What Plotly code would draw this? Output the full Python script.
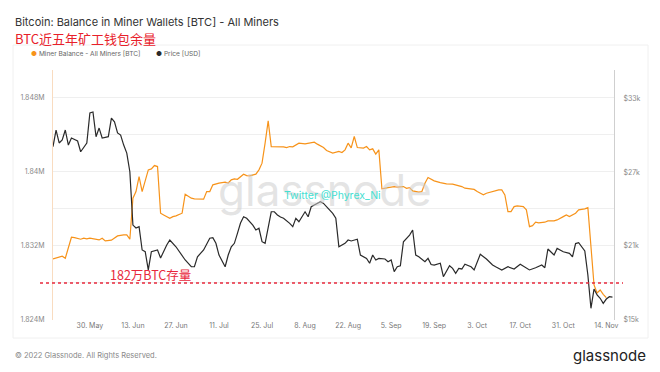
import plotly.graph_objects as go

# ---------------- data ----------------
price_dates = [
    "2022-05-18","2022-05-19","2022-05-20","2022-05-21","2022-05-22","2022-05-23","2022-05-24","2022-05-26",
    "2022-05-27","2022-05-29","2022-05-30","2022-05-31","2022-06-01","2022-06-02","2022-06-03","2022-06-05",
    "2022-06-06","2022-06-07","2022-06-08","2022-06-09","2022-06-10","2022-06-11","2022-06-12","2022-06-13",
    "2022-06-14","2022-06-15","2022-06-16","2022-06-17","2022-06-18","2022-06-19","2022-06-21","2022-06-22",
    "2022-06-24","2022-06-25","2022-06-27","2022-06-29","2022-06-30","2022-07-02","2022-07-03","2022-07-04",
    "2022-07-06","2022-07-08","2022-07-09","2022-07-10","2022-07-11","2022-07-13","2022-07-14","2022-07-15",
    "2022-07-16","2022-07-17","2022-07-18","2022-07-19","2022-07-20","2022-07-22","2022-07-23","2022-07-24",
    "2022-07-25","2022-07-26","2022-07-28","2022-07-29","2022-07-30","2022-07-31","2022-08-01","2022-08-03",
    "2022-08-04","2022-08-05","2022-08-06","2022-08-08","2022-08-09","2022-08-10","2022-08-12","2022-08-13",
    "2022-08-14","2022-08-15","2022-08-17","2022-08-18","2022-08-19","2022-08-21","2022-08-22","2022-08-23",
    "2022-08-24","2022-08-25","2022-08-26","2022-08-28","2022-08-29","2022-08-30","2022-08-31","2022-09-01",
    "2022-09-03","2022-09-04","2022-09-05","2022-09-06","2022-09-07","2022-09-08","2022-09-09","2022-09-10",
    "2022-09-11","2022-09-12","2022-09-13","2022-09-14","2022-09-16","2022-09-17","2022-09-18","2022-09-19",
    "2022-09-21","2022-09-22","2022-09-24","2022-09-25","2022-09-26","2022-09-27","2022-09-28","2022-09-29",
    "2022-10-01","2022-10-02","2022-10-04","2022-10-06","2022-10-08","2022-10-09","2022-10-11","2022-10-13",
    "2022-10-15","2022-10-17","2022-10-19","2022-10-20","2022-10-22","2022-10-24","2022-10-25","2022-10-26",
    "2022-10-28","2022-10-29","2022-10-31","2022-11-02","2022-11-03","2022-11-04","2022-11-05","2022-11-06",
    "2022-11-07","2022-11-08","2022-11-09","2022-11-10","2022-11-11","2022-11-12","2022-11-13","2022-11-14",
    "2022-11-15","2022-11-16",
]
price_usd = [
    29060, 30410, 29360, 29600, 30410, 29190, 29760, 29520,
    28650, 29360, 31790, 31870, 29870, 30570, 29760, 29870,
    31380, 31080, 30170, 30000, 29190, 28540, 27030, 22700,
    22460, 22570, 20680, 20540, 19060, 20540, 20680, 20030,
    21080, 21490, 20940, 20270, 19870, 19320, 19320, 20130,
    20680, 21630, 21680, 21220, 20270, 19320, 20270, 20940,
    21220, 22030, 22870, 23380, 23250, 22700, 22300, 22440,
    21350, 21220, 23780, 23780, 23520, 23350, 23250, 22840,
    22570, 23250, 22970, 23780, 23380, 24190, 24460, 24600,
    24460, 24190, 23650, 23250, 20940, 21220, 21490, 21410,
    21490, 21550, 20270, 20000, 19600, 20270, 19870, 20000,
    19950, 19730, 19870, 18920, 19320, 19400, 21350, 21630,
    21890, 22300, 20270, 20130, 19730, 20000, 19500, 19460,
    19600, 18510, 19400, 19190, 18790, 19190, 19140, 19520,
    19320, 19060, 20330, 19950, 19460, 19320, 19060, 19320,
    19140, 19520, 19190, 19060, 19240, 19460, 19240, 20760,
    20270, 20810, 20540, 20410, 20130, 21200, 21270, 20940,
    20600, 18650, 15950, 17510, 17030, 16760, 16350, 16700,
    16890, 16850,
]

balance_dates = [
    "2022-05-18","2022-05-20","2022-05-21","2022-05-22","2022-05-23","2022-05-24","2022-05-25","2022-05-27",
    "2022-05-28","2022-05-29","2022-05-30","2022-06-01","2022-06-02","2022-06-03","2022-06-04","2022-06-06",
    "2022-06-07","2022-06-08","2022-06-10","2022-06-11","2022-06-12","2022-06-13","2022-06-14","2022-06-15",
    "2022-06-16","2022-06-18","2022-06-19","2022-06-20","2022-06-21","2022-06-22","2022-06-23","2022-06-25",
    "2022-06-26","2022-06-27","2022-06-29","2022-06-30","2022-07-02","2022-07-03","2022-07-06","2022-07-07",
    "2022-07-08","2022-07-09","2022-07-11","2022-07-13","2022-07-14","2022-07-15","2022-07-16","2022-07-17",
    "2022-07-19","2022-07-20","2022-07-21","2022-07-23","2022-07-24","2022-07-25","2022-07-26","2022-07-27",
    "2022-07-28","2022-07-30","2022-08-01","2022-08-02","2022-08-03","2022-08-04","2022-08-06","2022-08-08",
    "2022-08-09","2022-08-11","2022-08-12","2022-08-14","2022-08-15","2022-08-17","2022-08-19","2022-08-20",
    "2022-08-21","2022-08-22","2022-08-23","2022-08-24","2022-08-25","2022-08-27","2022-08-28","2022-08-29",
    "2022-08-30","2022-08-31","2022-09-01","2022-09-02","2022-09-04","2022-09-06","2022-09-07","2022-09-09",
    "2022-09-10","2022-09-11","2022-09-12","2022-09-14","2022-09-15","2022-09-16","2022-09-17","2022-09-19",
    "2022-09-21","2022-09-23","2022-09-25","2022-09-27","2022-09-28","2022-09-29","2022-10-01","2022-10-02",
    "2022-10-03","2022-10-05","2022-10-06","2022-10-07","2022-10-09","2022-10-10","2022-10-11","2022-10-12",
    "2022-10-13","2022-10-14","2022-10-15","2022-10-16","2022-10-18","2022-10-19","2022-10-20","2022-10-21",
    "2022-10-22","2022-10-23","2022-10-25","2022-10-26","2022-10-28","2022-10-29","2022-10-31","2022-11-01",
    "2022-11-02","2022-11-04","2022-11-05","2022-11-07","2022-11-08","2022-11-09","2022-11-10","2022-11-11",
    "2022-11-12","2022-11-13","2022-11-14",
]
balance_btc = [
    1830594, 1830778, 1830886, 1830670, 1831924, 1832940, 1832897, 1832724,
    1832832, 1832756, 1832832, 1832724, 1832648, 1832832, 1832540, 1832616,
    1832832, 1833080, 1833189, 1833189, 1832724, 1837156, 1837869, 1839491,
    1837869, 1840215, 1840323, 1840680, 1840572, 1835534, 1835351, 1834994,
    1835167, 1835242, 1835534, 1837588, 1837156, 1837080, 1837048, 1837869,
    1837869, 1838594, 1838777, 1838885, 1838800, 1839134, 1839242, 1839200,
    1839750, 1839599, 1839566, 1839750, 1840215, 1840939, 1843101, 1845512,
    1842734, 1842734, 1842700, 1842626, 1842734, 1842700, 1843101, 1843026,
    1843101, 1843209, 1842993, 1842626, 1842302, 1842020, 1842200, 1842085,
    1842377, 1843101, 1842594, 1843815, 1842626, 1842561, 1842734, 1842377,
    1842485, 1841912, 1842377, 1838161, 1838302, 1838410, 1838345, 1838410,
    1838226, 1838302, 1837945, 1837804, 1837869, 1838777, 1839383, 1839026,
    1838842, 1838702, 1838669, 1838518, 1838410, 1838237, 1838129, 1838100,
    1837869, 1837513, 1837696, 1837804, 1837945, 1838053, 1838053, 1837513,
    1835707, 1835707, 1836248, 1836323, 1836248, 1835891, 1834086, 1834194,
    1834561, 1834486, 1834561, 1834702, 1834702, 1834810, 1835167, 1835351,
    1835167, 1835534, 1835891, 1835999, 1836140, 1832108, 1827784, 1826919,
    1827243, 1826778, 1826411,
]

x_tick_dates = ["2022-05-30","2022-06-13","2022-06-27","2022-07-11","2022-07-25","2022-08-08","2022-08-22",
                "2022-09-05","2022-09-19","2022-10-03","2022-10-17","2022-10-31","2022-11-14"]
x_tick_text = ["30. May","13. Jun","27. Jun","11. Jul","25. Jul","8. Aug","22. Aug",
               "5. Sep","19. Sep","3. Oct","17. Oct","31. Oct","14. Nov"]
left_tick_vals = [1824000, 1828000, 1832000, 1836000, 1840000, 1844000, 1848000]
left_tick_text = ["1.824M", "", "1.832M", "", "1.84M", "", "1.848M"]
right_tick_vals = [15000, 21000, 27000, 33000]
right_tick_text = ["$15k", "$21k", "$27k", "$33k"]
stock_line_btc = 1828000

ORANGE = "#f7931a"
BLACK = "#2a2a2a"
FONT = "Inter"

fig = go.Figure()
fig.add_trace(go.Scatter(x=balance_dates, y=balance_btc, mode="lines", name="Miner Balance - All Miners [BTC]",
                         line=dict(color=ORANGE, width=1.2), yaxis="y", showlegend=False))
fig.add_trace(go.Scatter(x=price_dates, y=price_usd, mode="lines", name="Price [USD]",
                         line=dict(color=BLACK, width=1.2), yaxis="y2", showlegend=False))

# the page body adds an 8px offset; figure is sized so it ends at the window edge
OFF = 8
W, H = 660 - OFF, 372 - OFF
PL, PR, PT, PB = 53, 614, 70, 320          # plot box in window pixels
L, R, T, B = PL - OFF, W - (PR - OFF), PT - OFF, H - (PB - OFF)
pw, ph = W - L - R, H - T - B

def px(xp):
    return (xp - OFF - L) / pw

def py(yp):
    return (H - B - (yp - OFF)) / ph

fig.update_layout(
    width=W, height=H,
    margin=dict(l=L, r=R, t=T, b=B, autoexpand=False),
    paper_bgcolor="white", plot_bgcolor="white",
    font=dict(family=FONT, color="#777", size=7),
    xaxis=dict(
        type="date", range=["2022-05-18 00:00", "2022-11-16 12:00"],
        tickvals=x_tick_dates, ticktext=x_tick_text, showgrid=False, zeroline=False,
        showline=False, ticks="", tickfont=dict(size=7, color="#777"), automargin=False,
    ),
    yaxis=dict(
        range=[1824000, 1851000], tickvals=left_tick_vals, ticktext=left_tick_text,
        showgrid=True, gridcolor="#efefef", gridwidth=1, zeroline=False,
        showline=True, linecolor="#f9dcc0", linewidth=1, ticks="",
        tickfont=dict(size=7, color="#888"), ticklabelstandoff=6, automargin=False,
    ),
    yaxis2=dict(
        range=[15000, 35280], overlaying="y", side="right",
        tickvals=right_tick_vals, ticktext=right_tick_text, showgrid=False, zeroline=False,
        showline=True, linecolor="#cfcfcf", linewidth=1, ticks="",
        tickfont=dict(size=7, color="#888"), ticklabelstandoff=7, automargin=False,
    ),
    hovermode=False,
)

shapes = [
    dict(type="rect", xref="paper", yref="paper", x0=px(13), x1=px(648), y0=py(338), y1=py(45),
         line=dict(color="#f0f0f0", width=1), layer="below"),
    dict(type="line", xref="paper", yref="y", x0=px(40), x1=px(623), y0=stock_line_btc, y1=stock_line_btc,
         line=dict(color="#e8283c", width=1.5, dash="dot")),
]
fig.update_layout(shapes=shapes)

ann = [
    dict(text="glassnode", x=px(325), y=py(190), font=dict(family="Inter", size=44, color="rgba(205,205,205,0.55)"),
         xanchor="center", yanchor="middle"),
    dict(text="Bitcoin: Balance in Miner Wallets [BTC] - All Miners", x=px(13), y=py(22),
         font=dict(family=FONT, size=11, color="#333"), xanchor="left", yanchor="middle"),
    dict(text="BTC近五年矿工钱包余量", x=px(13), y=py(38),
         font=dict(family="Noto Sans CJK SC", size=13, color="#e8202a"), xanchor="left", yanchor="middle"),
    dict(text='<span style="color:%s">●</span> Miner Balance - All Miners [BTC]' % ORANGE, x=px(29), y=py(54),
         font=dict(family=FONT, size=6.6, color="#666"), xanchor="left", yanchor="middle"),
    dict(text='<span style="color:%s">●</span> Price [USD]' % BLACK, x=px(154), y=py(54),
         font=dict(family=FONT, size=6.6, color="#666"), xanchor="left", yanchor="middle"),
    dict(text="Twitter @Phyrex_Ni", x=px(332), y=py(195),
         font=dict(family=FONT, size=10.5, color="#45e0d2"), xanchor="center", yanchor="middle"),
    dict(text="182万BTC存量", x=px(150), y=py(274),
         font=dict(family="Noto Sans CJK SC", size=12.5, color="#e8283c"), xanchor="center", yanchor="middle"),
    dict(text="© 2022 Glassnode. All Rights Reserved.", x=px(13), y=py(355),
         font=dict(family=FONT, size=7.5, color="#888"), xanchor="left", yanchor="middle"),
    dict(text="glassnode", x=px(648), y=py(355),
         font=dict(family=FONT, size=15, color="#222"), xanchor="right", yanchor="middle"),
]
for a in ann:
    a.update(xref="paper", yref="paper", showarrow=False)
fig.update_layout(annotations=ann)

fig.write_html("out.html")
